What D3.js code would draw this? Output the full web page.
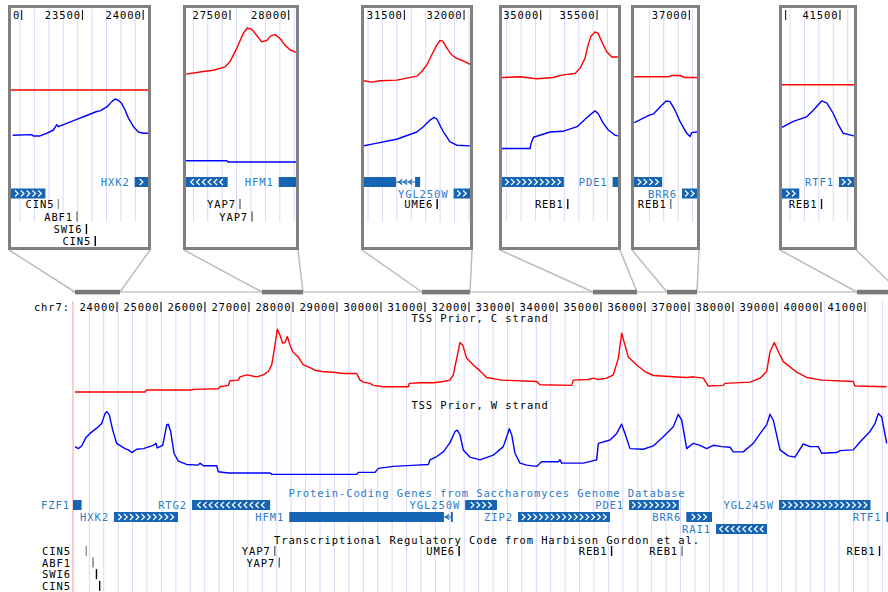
<!DOCTYPE html>
<html><head><meta charset="utf-8">
<script src="https://cdn.jsdelivr.net/npm/d3@7"></script>
<style>
body{margin:0;background:#fff;}
svg text{font-family:"DejaVu Sans Mono",monospace;font-size:10.5px;letter-spacing:0.9px}
</style></head><body>
<svg id="c" width="888" height="592"></svg>
<script>
// ---------------- DATA ----------------
const chromName = "chr7:";
const mainDomain = [23000, 41523];
const axisTicks = [24000,25000,26000,27000,28000,29000,30000,31000,32000,33000,34000,35000,36000,37000,38000,39000,40000,41000];
const trackTitles = ["TSS Prior, C strand","TSS Prior, W strand","Protein-Coding Genes from Saccharomyces Genome Database","Transcriptional Regulatory Code from Harbison Gordon et al."];

// TSS prior, C strand (red) : [position, prior]
const tssC = [[23045,0.00],[24636,0.00],[24675,0.03],[25698,0.03],[25734,0.04],[26302,0.05],[26341,0.08],[26530,0.10],[26568,0.17],[26757,0.18],[26795,0.23],[26948,0.26],[27175,0.23],[27325,0.26],[27439,0.31],[27516,0.41],[27591,0.71],[27643,0.95],[27705,0.86],[27766,0.74],[27818,0.75],[27870,0.84],[27932,0.71],[27993,0.61],[28120,0.53],[28234,0.41],[28386,0.37],[28500,0.33],[28652,0.31],[28916,0.30],[29143,0.28],[29448,0.28],[29523,0.18],[29598,0.15],[29750,0.13],[29825,0.10],[30052,0.08],[30620,0.08],[30643,0.13],[30886,0.14],[31189,0.14],[31416,0.16],[31568,0.18],[31643,0.26],[31720,0.51],[31795,0.75],[31857,0.71],[31948,0.51],[32098,0.41],[32250,0.32],[32402,0.22],[32743,0.18],[33539,0.16],[33614,0.11],[34334,0.10],[34370,0.18],[34711,0.19],[34825,0.21],[34939,0.19],[35130,0.21],[35280,0.26],[35393,0.51],[35470,0.89],[35545,0.71],[35620,0.53],[35811,0.41],[36000,0.31],[36189,0.25],[36643,0.23],[36948,0.22],[37098,0.23],[37325,0.21],[37439,0.09],[37780,0.10],[37818,0.13],[38386,0.15],[38614,0.21],[38766,0.31],[38841,0.61],[38939,0.75],[39030,0.61],[39143,0.46],[39448,0.30],[39675,0.22],[40016,0.18],[40734,0.16],[40773,0.09],[41493,0.08]];

// TSS prior, W strand (blue)
const tssW = [[23045,0.43],[23120,0.40],[23198,0.44],[23295,0.57],[23386,0.63],[23539,0.71],[23652,0.78],[23727,0.93],[23766,0.96],[23825,0.91],[23902,0.68],[23993,0.48],[24182,0.40],[24257,0.38],[24334,0.34],[24448,0.39],[24598,0.40],[24825,0.45],[24886,0.48],[24916,0.41],[25039,0.45],[25130,0.76],[25166,0.77],[25220,0.66],[25295,0.33],[25393,0.21],[25584,0.16],[25848,0.15],[25886,0.18],[25961,0.14],[26266,0.14],[26302,0.05],[26530,0.03],[27477,0.03],[27516,0.01],[29448,0.01],[29484,0.04],[29864,0.04],[29939,0.10],[30280,0.13],[30811,0.15],[31075,0.16],[31114,0.23],[31266,0.28],[31416,0.35],[31568,0.49],[31682,0.66],[31734,0.68],[31795,0.61],[31870,0.38],[32023,0.27],[32250,0.23],[32552,0.30],[32780,0.43],[32857,0.58],[32916,0.70],[32970,0.61],[33045,0.33],[33159,0.18],[33311,0.15],[33539,0.13],[33614,0.18],[33652,0.20],[34030,0.20],[34068,0.23],[34107,0.18],[34598,0.18],[34902,0.23],[34939,0.48],[35205,0.53],[35357,0.63],[35470,0.77],[35545,0.63],[35659,0.40],[35961,0.39],[36189,0.44],[36416,0.58],[36643,0.73],[36757,0.92],[36834,0.83],[36948,0.40],[37098,0.48],[37250,0.45],[37402,0.40],[37552,0.45],[37743,0.43],[37932,0.42],[38007,0.35],[38234,0.35],[38461,0.48],[38652,0.66],[38766,0.76],[38841,0.92],[38916,0.83],[39068,0.38],[39257,0.29],[39409,0.27],[39598,0.47],[39750,0.43],[39939,0.43],[40016,0.33],[40357,0.34],[40432,0.37],[40734,0.38],[40886,0.50],[41114,0.66],[41227,0.78],[41302,0.93],[41380,0.88],[41493,0.48]];

// Genes (SGD)
const geneNames   = ["FZF1","HXK2","RTG2","HFM1","YGL250W","ZIP2","PDE1","BRR6","RAI1","YGL245W","RTF1"];
const geneStarts  = [22850,23930,25705,27915,31912,33114,35638,36938,37614,39045,41490];
const geneEnds    = [23195,25386,27480,31632,32636,35205,36770,37523,38773,41125,42500];
const geneStrands = ["+","+","-","-","+","+","+","+","-","+","+"];
const geneExons   = {HFM1: [[27915,31430],[31590,31632]]};
const mainGeneRows = {FZF1:0,RTG2:0,YGL250W:0,PDE1:0,YGL245W:0,HXK2:1,HFM1:1,ZIP2:1,BRR6:1,RTF1:1,RAI1:2};

// Transcription factor binding sites
const tfNames  = ["CIN5","ABF1","SWI6","CIN5","YAP7","YAP7","UME6","REB1","REB1","REB1"];
const tfPos    = [23302,23456,23533,23606,27585,27688,31775,35240,36843,41330];
const tfScore  = [0.3,0.45,1,1,0.5,0.5,1,0.95,0.45,0.9];
const tfRows   = [0,1,2,3,0,1,0,0,0,0];

// Zoomed regions marked on the main ruler
const zoomBars = [[23045,24068],[27295,28227],[30932,32023],[34818,35818],[36500,37182],[40818,41800]];

// Zoom panels: genomic windows, curves and gene rows
const panelDomains = [[22912,24040],[27125,28062],[31162,32050],[34656,35686],[36532,37065],[40966,41629]];
const p1C = [[22912,0.03],[24040,0.03]];
const p1W = [[22926,0.42],[23082,0.43],[23096,0.41],[23151,0.41],[23206,0.45],[23261,0.50],[23289,0.58],[23302,0.55],[23371,0.60],[23453,0.66],[23536,0.72],[23618,0.78],[23646,0.79],[23701,0.85],[23742,0.93],[23769,0.97],[23796,0.95],[23824,0.90],[23852,0.80],[23879,0.68],[23920,0.55],[23961,0.47],[24002,0.45],[24041,0.45]];
const p2C = [[27125,0.27],[27273,0.31],[27358,0.33],[27457,0.38],[27500,0.46],[27557,0.66],[27613,0.89],[27647,0.97],[27685,0.95],[27727,0.86],[27770,0.76],[27813,0.78],[27847,0.85],[27883,0.87],[27926,0.81],[27968,0.71],[28011,0.64],[28062,0.60]];
const p2W = [[27125,0.035],[27474,0.035],[27483,0.015],[28062,0.015]];
const p3C = [[31162,0.17],[31227,0.15],[31296,0.17],[31436,0.18],[31520,0.21],[31604,0.24],[31646,0.31],[31688,0.41],[31729,0.56],[31771,0.71],[31799,0.78],[31822,0.77],[31855,0.67],[31897,0.56],[31939,0.51],[31994,0.47],[32050,0.42]];
const p3W = [[31162,0.26],[31240,0.29],[31436,0.36],[31604,0.47],[31659,0.55],[31715,0.65],[31749,0.69],[31771,0.67],[31827,0.47],[31883,0.32],[31939,0.27],[32050,0.26]];
const p4C = [[34656,0.22],[34816,0.23],[34964,0.20],[35109,0.22],[35198,0.26],[35305,0.28],[35349,0.36],[35393,0.51],[35420,0.71],[35447,0.85],[35482,0.91],[35509,0.89],[35542,0.76],[35586,0.61],[35631,0.53],[35686,0.53]];
const p4W = [[34656,0.22],[34905,0.22],[34915,0.30],[34935,0.39],[35083,0.47],[35198,0.48],[35322,0.55],[35438,0.73],[35482,0.79],[35509,0.75],[35556,0.60],[35600,0.50],[35660,0.42],[35686,0.41]];
const p5C = [[36534,0.23],[36822,0.23],[36851,0.25],[36921,0.25],[36964,0.22],[37065,0.22]];
const p5W = [[36534,0.61],[36667,0.73],[36695,0.74],[36752,0.85],[36803,0.94],[36837,0.93],[36879,0.80],[36921,0.63],[36978,0.45],[37006,0.40],[37020,0.46],[37065,0.47]];
const p6C = [[40966,0.11],[41629,0.11]];
const p6W = [[40966,0.54],[41070,0.63],[41193,0.70],[41254,0.80],[41331,0.94],[41378,0.91],[41438,0.75],[41484,0.58],[41530,0.45],[41629,0.41]];
const panelCurvesC = [p1C,p2C,p3C,p4C,p5C,p6C];
const panelCurvesW = [p1W,p2W,p3W,p4W,p5W,p6W];
const panelGeneRows = [{HXK2:0,FZF1:1},{RTG2:0,HFM1:0},{HFM1:0,YGL250W:1},{ZIP2:0,PDE1:0},{PDE1:0,BRR6:1},{RTF1:0,YGL245W:1}];

// ---------------- LAYOUT ----------------
const panelBoxes = [[8,151],[183,299],[361,473],[499,621],[631,700],[779,857]];
const panelGridStart = [20,193.3,368,506.7,649.3,790];
const gridStep = 14.42;
const COL = {red:"#ff0000", blue:"#0000ff", grid:"#d9d9fb", gene:"#1565b4", geneText:"#2b7bc9", border:"#808080"};
const CH = 7.22; // char advance

const svg = d3.select("#c");
const defs = svg.append("defs");

function chevron(g, cx, cy, dir, color, h) {
  const d = dir === "+" ? `M${cx-1.6},${cy-h} L${cx+1.6},${cy} L${cx-1.6},${cy+h}` : `M${cx+1.6},${cy-h} L${cx-1.6},${cy} L${cx+1.6},${cy+h}`;
  g.append("path").attr("d", d).attr("fill","none").attr("stroke",color).attr("stroke-width",1.2);
}

function drawGrid(g, x0, x1, start, y0, y1) {
  const xs = d3.range(start, x1, gridStep);
  g.selectAll(null).data(xs).join("line")
    .attr("x1", d=>d).attr("x2", d=>d).attr("y1", y0).attr("y2", y1)
    .attr("stroke", COL.grid).attr("stroke-width", 1);
}

function drawCurve(g, x, y, data, color) {
  g.append("path").datum(data)
    .attr("d", d3.line().x(d=>x(d[0])).y(d=>y(d[1])))
    .attr("fill","none").attr("stroke",color).attr("stroke-width",1.4).attr("stroke-linejoin","round");
}

function drawGenes(g, x, rowMap, rowY, lo, hi, isMain) {
  const [pxLo, pxHi] = [x(lo), x(hi)];
  geneNames.forEach((name, i) => {
    if (!(name in rowMap)) return;
    const cy = rowY[rowMap[name]];
    const exons = geneExons[name] || [[geneStarts[i], geneEnds[i]]];
    for (let k = 0; k < exons.length - 1; k++) {
      const a = x(exons[k][1]), b = x(exons[k+1][0]);
      g.append("line").attr("x1",a).attr("x2",b).attr("y1",cy).attr("y2",cy).attr("stroke",COL.gene).attr("stroke-width",1);
      const n = Math.floor((b - a - 2) / 5);
      for (let j = 0; j < n; j++) chevron(g, (a+b)/2 + (j-(n-1)/2)*5, cy, geneStrands[i], COL.gene, 2.5);
    }
    exons.forEach(e => {
      const a = Math.max(x(e[0]), pxLo), b = Math.min(x(e[1]), pxHi);
      if (b <= a) return;
      g.append("rect").attr("x", a).attr("y", cy-5).attr("width", Math.max(1, b - a)).attr("height", 10).attr("fill", COL.gene);
    });
    if (exons.length === 1) {
      const a = Math.max(x(geneStarts[i]), pxLo), b = Math.min(x(geneEnds[i]), pxHi);
      const n = Math.floor((b - a - 3) / 5.8);
      for (let j = 0; j < n; j++) chevron(g, (a+b)/2 + (j-(n-1)/2)*5.8, cy, geneStrands[i], "#ffffff", 3);
    }
    if (isMain || geneStarts[i] >= lo) {
      const xe = Math.max(x(geneStarts[i]), pxLo + 2) - 5;
      g.append("text").attr("x", xe).attr("y", cy+4).attr("text-anchor","end").attr("fill", COL.geneText).text(name);
    }
  });
}

const shade = d3.scaleLinear([0,1], ["#d4d4d4","#000000"]);
function drawTFs(g, x, rowY, lo, hi, isMain, marginX) {
  tfNames.forEach((name, i) => {
    if (tfPos[i] < lo || tfPos[i] > hi) return;
    const cx = x(tfPos[i]), cy = rowY[tfRows[i]];
    g.append("line").attr("x1",cx).attr("x2",cx).attr("y1",cy-5).attr("y2",cy+5).attr("stroke",shade(tfScore[i])).attr("stroke-width",1.4);
    let xe = cx - 4;
    if (isMain && xe - name.length*CH < marginX) xe = marginX - 2;
    g.append("text").attr("x", xe).attr("y", cy+4).attr("text-anchor","end").attr("fill","#000").text(name);
  });
}

// ---------------- MAIN VIEW ----------------
const xM = d3.scaleLinear(mainDomain, [73, 888]);
const yC = d3.scaleLinear([0,1], [392, 326]);
const yW = d3.scaleLinear([0,1], [475, 409]);

defs.append("clipPath").attr("id","clipMain").append("rect").attr("x",73).attr("y",296).attr("width",815).attr("height",296);
const gm = svg.append("g");
drawGrid(gm, 73, 888, 89.3, 301, 592);
gm.append("line").attr("x1",73).attr("x2",73).attr("y1",301).attr("y2",592).attr("stroke","#ff9a9a").attr("stroke-width",1);

// ruler
gm.append("text").attr("x",70).attr("y",311).attr("text-anchor","end").text(chromName);
axisTicks.forEach(t => {
  gm.append("text").attr("x", xM(t)-1.5).attr("y",311).attr("text-anchor","end").text(t);
  gm.append("line").attr("x1",xM(t)).attr("x2",xM(t)).attr("y1",302).attr("y2",312).attr("stroke","#000").attr("stroke-width",1);
});
gm.append("text").attr("x",480).attr("y",322).attr("text-anchor","middle").text(trackTitles[0]);
gm.append("text").attr("x",480).attr("y",409).attr("text-anchor","middle").text(trackTitles[1]);
gm.append("text").attr("x",487).attr("y",497).attr("text-anchor","middle").attr("fill",COL.geneText).text(trackTitles[2]);
gm.append("text").attr("x",487).attr("y",543.5).attr("text-anchor","middle").text(trackTitles[3]);

const gmc = gm.append("g").attr("clip-path","url(#clipMain)");
drawCurve(gmc, xM, yC, tssC, COL.red);
drawCurve(gmc, xM, yW, tssW, COL.blue);
drawGenes(gm, xM, mainGeneRows, [505, 517, 529], mainDomain[0], mainDomain[1], true);
drawTFs(gm, xM, [551, 562.6, 574.2, 585.8], mainDomain[0], mainDomain[1], true, 73);

// ---------------- ZOOM CONNECTORS ----------------
const gz = svg.append("g");
gz.append("line").attr("x1",72).attr("x2",888).attr("y1",292).attr("y2",292).attr("stroke","#c9c9c9").attr("stroke-width",1.5);
zoomBars.forEach((b, i) => {
  const [pl, pr] = panelBoxes[i];
  gz.append("line").attr("x1",pl+1).attr("y1",250).attr("x2",xM(b[0])).attr("y2",292).attr("stroke","#bdbdbd").attr("stroke-width",1.5);
  gz.append("line").attr("x1",pr-1).attr("y1",250).attr("x2",xM(b[1])).attr("y2",292).attr("stroke","#bdbdbd").attr("stroke-width",1.5);
});
zoomBars.forEach(b => {
  gz.append("rect").attr("x",xM(b[0])).attr("y",289.8).attr("width",xM(b[1])-xM(b[0])).attr("height",4.6).attr("fill","#7a7a7a");
});

// ---------------- PANELS ----------------
const yCi = d3.scaleLinear([0,1], [92, 26]);
const yWi = d3.scaleLinear([0,1], [163, 97]);
panelBoxes.forEach((box, i) => {
  const [L, R] = box;
  const il = L + 3, ir = R - 3;
  const dom = panelDomains[i];
  const x = d3.scaleLinear(dom, [il, ir]);
  const gp = svg.append("g");
  gp.append("rect").attr("x",L+1.5).attr("y",6.5).attr("width",R-L-3).attr("height",242).attr("fill","#fff").attr("stroke",COL.border).attr("stroke-width",3);
  defs.append("clipPath").attr("id","clipP"+i).append("rect").attr("x",il).attr("y",8).attr("width",ir-il).attr("height",239);
  const g = gp.append("g").attr("clip-path",`url(#clipP${i})`);
  drawGrid(g, il, ir, panelGridStart[i], 9, 222);
  const ticks = d3.range(Math.ceil((dom[0]-600)/500)*500, dom[1]+700, 500);
  ticks.forEach(t => {
    const xt = x(t);
    if (xt >= il && xt <= ir)
      g.append("line").attr("x1",xt).attr("x2",xt).attr("y1",10).attr("y2",20).attr("stroke","#000").attr("stroke-width",1);
    // keep only the characters of the ruler label that lie inside the panel
    const s = String(t), end = xt - 1.5;
    let vis = "";
    for (let j = 0; j < s.length; j++) {
      const right = end - j*CH, left = right - CH;
      if (left >= il - 1.5 && right <= ir + 1) vis = s[s.length-1-j] + vis; else break;
    }
    if (vis.length)
      g.append("text").attr("x", end).attr("y",19).attr("text-anchor","end").text(vis);
  });
  drawCurve(g, x, yCi, panelCurvesC[i], COL.red);
  drawCurve(g, x, yWi, panelCurvesW[i], COL.blue);
  drawGenes(g, x, panelGeneRows[i], [182, 193.5], dom[0], dom[1], false);
  drawTFs(g, x, [204, 216.5, 229, 241], dom[0], dom[1], false, il);
});
</script>
</body></html>
